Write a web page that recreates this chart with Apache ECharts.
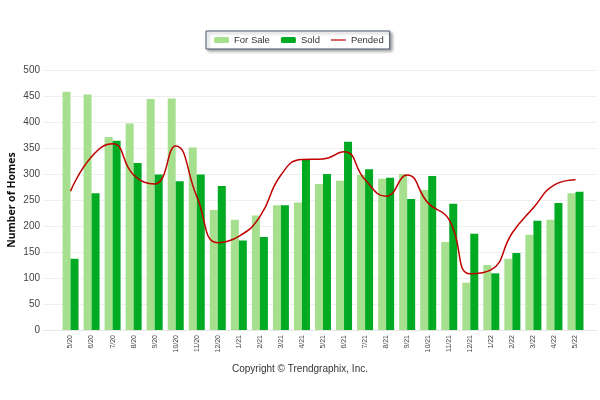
<!DOCTYPE html>
<html><head><meta charset="utf-8">
<script src="https://cdn.jsdelivr.net/npm/echarts@6/dist/echarts.min.js"></script>
<style>html,body{margin:0;padding:0;background:#fff}#c{width:600px;height:400px}</style>
</head><body><div id="c"></div>
<script>
const categories = ['5/20','6/20','7/20','8/20','9/20','10/20','11/20','12/20','1/21','2/21','3/21','4/21','5/21','6/21','7/21','8/21','9/21','10/21','11/21','12/21','1/22','2/22','3/22','4/22','5/22'];
const forSale = [458,453,371,397,444,445,351,231,212,220,240,245,281,287,298,291,300,269,169,91,125,137,183,212,263];
const sold = [137,263,364,321,299,286,299,277,172,179,240,329,300,362,309,293,252,296,243,185,109,148,210,244,266];
const pended = [267,333,358,298,281,354,257,168,180,218,298,328,329,343,289,257,298,244,212,108,116,187,235,279,289];
const yTicks = {min:0, max:500, interval:50};

const chart = echarts.init(document.getElementById('c'));
const gTop = 70, gBottom = 70;
chart.setOption({
  animation:false,
  backgroundColor:'#fff',
  textStyle:{fontFamily:'Liberation Sans, Arial, sans-serif'},
  legend:{
    top:31, left:206,
    data:['For Sale','Sold',{name:'Pended', icon:'path://M0,0H20V1.6H0Z'}],
    borderColor:'#4a5470', borderWidth:1, borderRadius:0,
    padding:[4,6,4,8], itemGap:11,
    itemWidth:15, itemHeight:6,
    shadowColor:'rgba(0,0,0,0.35)', shadowBlur:3, shadowOffsetX:2, shadowOffsetY:2,
    backgroundColor:'#fff',
    textStyle:{fontSize:9.5, color:'#333', fontFamily:'Liberation Sans, Arial, sans-serif'}
  },
  grid:[
    {left:43, right:3, top:gTop, bottom:gBottom, containLabel:false, outerBoundsMode:'none'},
    {left:60, right:14, top:gTop, bottom:gBottom, containLabel:false, outerBoundsMode:'none'}
  ],
  xAxis:[
    {gridIndex:0, type:'value', show:true, min:0, max:1,
     axisLine:{show:true, lineStyle:{color:'#e6e6e6'}}, axisTick:{show:false}, axisLabel:{show:false}, splitLine:{show:false}},
    {gridIndex:1, type:'category', data:categories, boundaryGap:true,
     axisLine:{show:false}, axisTick:{show:false},
     axisLabel:{rotate:90, fontSize:7, color:'#444', interval:0, margin:5}}
  ],
  yAxis:[
    {gridIndex:0, type:'value', min:yTicks.min, max:yTicks.max, interval:yTicks.interval,
     name:'Number of Homes', nameLocation:'middle', nameGap:25, nameMoveOverlap:false,
     nameTextStyle:{fontSize:10.5, fontWeight:'bold', color:'#111', fontFamily:'Noto Sans, sans-serif'},
     axisLine:{show:false}, axisTick:{show:false},
     axisLabel:{fontSize:10, color:'#444', margin:3},
     splitLine:{lineStyle:{color:'#efefef'}}},
    {gridIndex:1, type:'value', min:yTicks.min, max:yTicks.max, interval:yTicks.interval, show:false}
  ],
  graphic:[{type:'text', left:'center', top:364,
    style:{text:'Copyright © Trendgraphix, Inc.', fontSize:10, fill:'#333', fontFamily:'Liberation Sans, Arial, sans-serif'}}],
  series:[
    {name:'For Sale', type:'bar', xAxisIndex:1, yAxisIndex:1, data:forSale, barWidth:8, barGap:'0%', itemStyle:{color:'#a6e08e'}},
    {name:'Sold', type:'bar', xAxisIndex:1, yAxisIndex:1, data:sold, barWidth:8, barGap:'0%', itemStyle:{color:'#00aa22'}},
    {name:'Pended', type:'line', xAxisIndex:1, yAxisIndex:1, data:pended, smooth:0.5, symbol:'none',
     lineStyle:{color:'#c00000', width:1.5}, itemStyle:{color:'#c00000'}}
  ]
});
</script></body></html>
